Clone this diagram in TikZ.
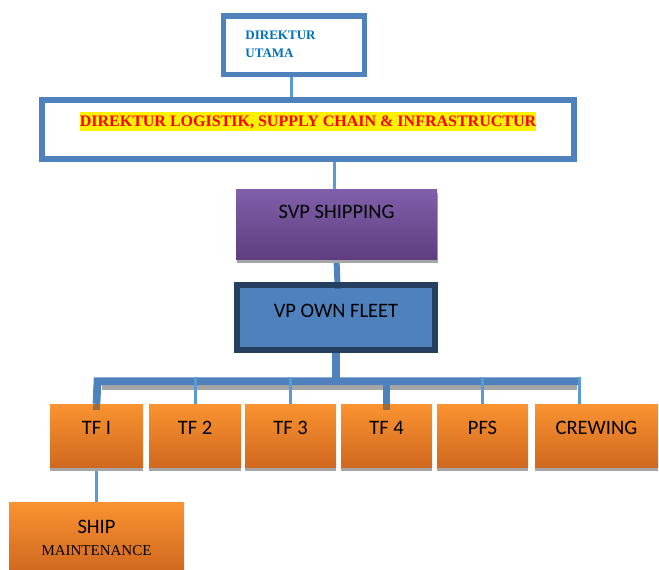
\documentclass[tikz,border=0pt]{standalone}
\usepackage{fontspec}
\setmainfont{Liberation Serif}
\newfontfamily\calib{Carlito}
\usetikzlibrary{calc,shadows}

\definecolor{frameblue}{HTML}{4F81BD}
\definecolor{linkblue}{HTML}{5B9BD5}
\definecolor{navyedge}{HTML}{243F60}
\definecolor{titleblue}{HTML}{0070C0}
\definecolor{purpletop}{HTML}{8160AA}
\definecolor{purplebot}{HTML}{5E3D80}
\definecolor{orangetop}{HTML}{FA9330}
\definecolor{orangebot}{HTML}{D0691F}
\definecolor{shadowgrey}{HTML}{A6A6A6}

\tikzset{
  framebox/.style={draw=frameblue, line width=5.5pt, fill=white, inner sep=0pt},
  unitbox/.style={top color=orangetop, bottom color=orangebot, draw=none,
    inner sep=0pt, minimum height=63pt,
    drop shadow={shadow xshift=0pt, shadow yshift=-4pt, fill=shadowgrey, opacity=1}},
  sanslbl/.style={font=\calib\fontsize{20.5}{24}\selectfont, inner sep=0pt, text=black},
  thinlink/.style={draw=linkblue, line width=3pt},
  thicklink/.style={draw=frameblue, line width=7.7pt},
  stub/.style={draw=navyedge, line width=7.7pt, opacity=0.45}
}

\begin{document}
\begin{tikzpicture}[x=1pt,y=-1pt]
\useasboundingbox (0,0) rectangle (659,570);

% ---- box places (bodies are drawn after the links below) ----
\path
  (294,45.3)   node[inner sep=0pt, minimum width=141pt, minimum height=58.3pt] (du) {}
  (308,129.25) node[inner sep=0pt, minimum width=532pt, minimum height=59pt] (dl) {}
  (336.5,224)  node[inner sep=0pt, minimum width=201pt, minimum height=70pt] (svp) {}
  (336,317.5)  node[inner sep=0pt, minimum width=198pt, minimum height=65pt] (vp) {}
  (96.5,435.5) node[inner sep=0pt, minimum width=93pt,  minimum height=63pt] (tf1) {}
  (195,435.5)  node[inner sep=0pt, minimum width=92pt,  minimum height=63pt] (tf2) {}
  (290.5,435.5) node[inner sep=0pt, minimum width=91pt, minimum height=63pt] (tf3) {}
  (386.5,435.5) node[inner sep=0pt, minimum width=91pt, minimum height=63pt] (tf4) {}
  (482.5,435.5) node[inner sep=0pt, minimum width=91pt, minimum height=63pt] (pfs) {}
  (596.5,435.5) node[inner sep=0pt, minimum width=123pt, minimum height=63pt] (crew) {}
  (96.5,536)   node[inner sep=0pt, minimum width=175pt, minimum height=68pt] (ship) {};

% bus bar joining the units
\coordinate (busL) at (97.5,381.2);
\coordinate (busR) at (578.3,381.2);
\coordinate (bustop) at (0,377);
\coordinate (crewdrop) at (579.7,377);

% ---- links ----
\draw[thinlink] ([xshift=-2.7pt]du.south) -- ([xshift=-2.7pt]du.south |- dl.north);
\draw[thinlink] ([xshift=-1.8pt]svp.north |- dl.south) -- ([xshift=-1.8pt]svp.north);
\draw[draw=frameblue, line width=6pt] (svp.south) -- ([xshift=1.5pt]vp.north);
\draw[shadowgrey, line width=5pt] ([shift={(4.2,6.3)}]busL) -- ([shift={(-1,6.3)}]busR);
\draw[thicklink] (vp.south) -- (vp.south |- busL);
\draw[thicklink, line join=miter] (tf1.north) -- (busL) -- (busR);
\draw[thicklink] (busL -| tf4.north) -- (tf4.north);
\foreach \u in {tf2,tf3,pfs}
  \draw[thinlink] (bustop -| \u.north) -- (\u.north);
\draw[thinlink] (crewdrop) -- (crewdrop |- crew.north);
\draw[thinlink] (tf1.south) -- (ship.north);

% ---- box bodies ----
\node[framebox, minimum width=141pt, minimum height=58.3pt] at (du) {};
\node[framebox, minimum width=532pt, minimum height=59pt] at (dl) {};
\node[top color=purpletop, bottom color=purplebot, inner sep=0pt,
      minimum width=201pt, minimum height=70pt,
      drop shadow={shadow xshift=1pt, shadow yshift=-4pt, fill=shadowgrey, opacity=1}] at (svp) {};
\node[fill=frameblue, draw=navyedge, line width=6pt, inner sep=0pt,
      minimum width=198pt, minimum height=65pt] at (vp) {};
\foreach \u/\w in {tf1/93,tf2/92,tf3/91,tf4/91,pfs/91,crew/123}
  \node[unitbox, minimum width=\w pt] at (\u) {};
\node[unitbox, minimum width=175pt, minimum height=68pt] at (ship) {};

% links entering the units, seen through the box tops
\draw[stub] (tf1.north) -- ++(0,6);
\draw[stub] (tf4.north) -- ++(0,6);
\draw[stub, line width=6pt] ([xshift=1.5pt]vp.north) -- ++(0,4);

% ---- texts ----
\node[align=left, inner sep=0pt, text=titleblue,
      font=\bfseries\fontsize{13}{18}\selectfont] (dutext)
  at ([shift={(-13.5,-1.3)}]du.center) {DIREKTUR\\UTAMA};
\node[fill=yellow, text=red, inner xsep=0pt, inner ysep=0pt,
      text height=14.5pt, text depth=4.5pt,
      font=\bfseries\fontsize{16}{19}\selectfont] (dltext)
  at ([shift={(0,-7.8)}]dl.center) {DIREKTUR LOGISTIK, SUPPLY CHAIN \& INFRASTRUCTUR};
\node[sanslbl] (svptext) at ([yshift=12pt]svp.center) {SVP SHIPPING};
\node[sanslbl] (vptext) at ([yshift=7pt]vp.center) {VP OWN FLEET};
\foreach \u/\t in {tf1/TF I,tf2/TF 2,tf3/TF 3,tf4/TF 4,pfs/PFS,crew/CREWING}
  \node[sanslbl] at ([yshift=8pt]\u.center) {\t};
\node[sanslbl] (shiptext) at ([yshift=9pt]ship.center) {SHIP};
\node[inner sep=0pt, font=\fontsize{15}{18}\selectfont] (mainttext)
  at ([yshift=-15pt]ship.center) {MAINTENANCE};
\end{tikzpicture}
\end{document}
